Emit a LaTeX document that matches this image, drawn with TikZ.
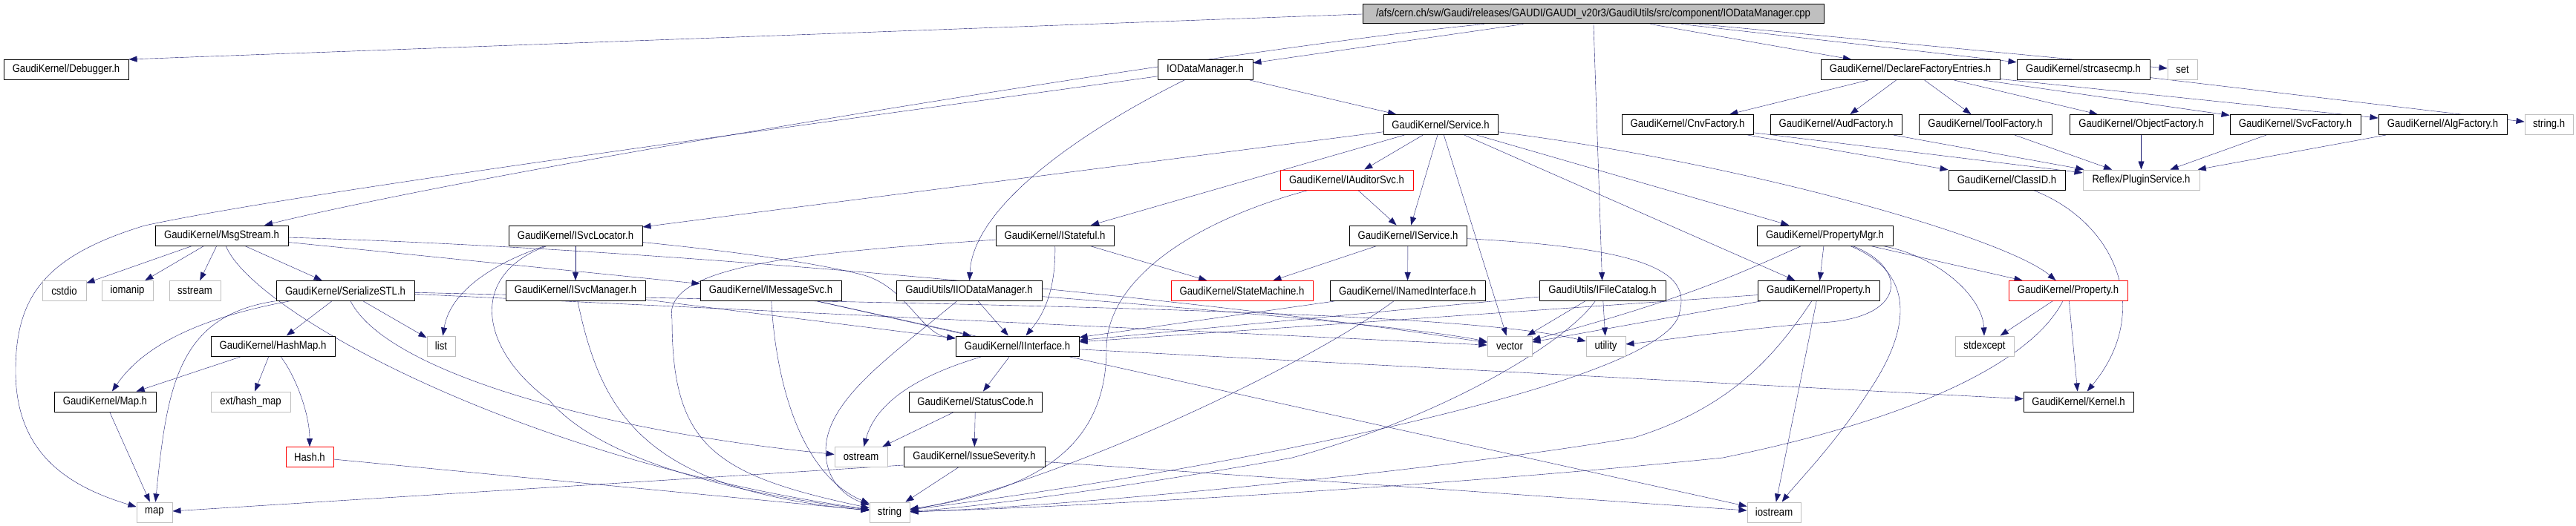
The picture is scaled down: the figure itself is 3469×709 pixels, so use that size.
\documentclass[tikz,border=0pt]{standalone}
\usepackage{fontspec}
\setmainfont{Liberation Sans}[FakeStretch=0.875]
\usetikzlibrary{arrows.meta}
\definecolor{edgeblue}{HTML}{191970}
\definecolor{sysgray}{HTML}{BFBFBF}
\pgfdeclarelayer{edges}
\pgfsetlayers{edges,main}

\begin{document}
\begin{tikzpicture}[x=1pt, y=-1pt, line width=1pt,
    font=\fontsize{15}{17}\selectfont,
    hdr/.style={draw, fill=white, inner xsep=1pt, inner ysep=0pt,
      minimum height=27pt, minimum width=#1},
    sys/.style={hdr=#1, draw=sysgray},
    trunc/.style={hdr=#1, draw=red},
    incl/.style={draw=edgeblue, -{Triangle[length=11pt,width=8pt]}}]
  \useasboundingbox (0,0) rectangle (3469,709);

  % the source file
  \node[hdr=621pt, fill=sysgray, minimum height=26pt] (root) at (2145.5,19)
    {/afs/cern.ch/sw/Gaudi/releases/GAUDI/GAUDI\_v20r3/GaudiUtils/src/component/IODataManager.cpp};

  % rank 1
  \node[hdr=168pt] (debugger) at (89,94) {GaudiKernel/Debugger.h};
  \node[hdr=128pt] (iodm) at (1623,94) {IODataManager.h};
  \node[hdr=241pt] (dfe) at (2572.5,94) {GaudiKernel/DeclareFactoryEntries.h};
  \node[hdr=179pt] (strcasecmp) at (2805.5,94) {GaudiKernel/strcasecmp.h};
  \node[sys=40pt] (set) at (2939,94) {set};

  % rank 2
  \node[hdr=154pt] (service) at (1940,168) {GaudiKernel/Service.h};
  \node[hdr=177pt] (cnvfactory) at (2272.5,168) {GaudiKernel/CnvFactory.h};
  \node[hdr=177pt] (audfactory) at (2472.5,168) {GaudiKernel/AudFactory.h};
  \node[hdr=179pt] (toolfactory) at (2673.5,168) {GaudiKernel/ToolFactory.h};
  \node[hdr=193pt] (objectfactory) at (2883.5,168) {GaudiKernel/ObjectFactory.h};
  \node[hdr=176pt] (svcfactory) at (3091,168) {GaudiKernel/SvcFactory.h};
  \node[hdr=173pt] (algfactory) at (3289.5,168) {GaudiKernel/AlgFactory.h};
  \node[sys=65pt] (stringh) at (3432.5,168) {string.h};

  % rank 3
  \node[trunc=179pt] (iauditorsvc) at (1813.5,242.5) {GaudiKernel/IAuditorSvc.h};
  \node[hdr=157pt] (classid) at (2702.5,242.5) {GaudiKernel/ClassID.h};
  \node[sys=157pt] (pluginsvc) at (2883.5,242.5) {Reflex/PluginService.h};

  % rank 4
  \node[hdr=179pt] (msgstream) at (298.5,317.5) {GaudiKernel/MsgStream.h};
  \node[hdr=180pt] (isvclocator) at (775,317.5) {GaudiKernel/ISvcLocator.h};
  \node[hdr=159pt] (istateful) at (1420.5,317.5) {GaudiKernel/IStateful.h};
  \node[hdr=158pt] (iservice) at (1896,317.5) {GaudiKernel/IService.h};
  \node[hdr=183pt] (propertymgr) at (2457.5,317.5) {GaudiKernel/PropertyMgr.h};

  % rank 5
  \node[sys=59pt] (cstdio) at (86.5,392) {cstdio};
  \node[sys=69pt] (iomanip) at (171.5,392) {iomanip};
  \node[sys=69pt] (sstream) at (262.5,392) {sstream};
  \node[hdr=186pt] (serializestl) at (465,392) {GaudiKernel/SerializeSTL.h};
  \node[hdr=188pt] (isvcmanager) at (775,392) {GaudiKernel/ISvcManager.h};
  \node[hdr=190pt] (imessagesvc) at (1038,392) {GaudiKernel/IMessageSvc.h};
  \node[hdr=196pt] (iiodm) at (1305,392) {GaudiUtils/IIODataManager.h};
  \node[trunc=191pt] (statemachine) at (1672.5,392) {GaudiKernel/StateMachine.h};
  \node[hdr=209pt] (inamed) at (1895.5,392) {GaudiKernel/INamedInterface.h};
  \node[hdr=170pt] (ifilecatalog) at (2158,392) {GaudiUtils/IFileCatalog.h};
  \node[hdr=164pt] (iproperty) at (2449,392) {GaudiKernel/IProperty.h};
  \node[trunc=160pt] (property) at (2785,392) {GaudiKernel/Property.h};

  % rank 6
  \node[hdr=167pt] (hashmap) at (367.5,466.5) {GaudiKernel/HashMap.h};
  \node[sys=38pt] (list) at (594,466.5) {list};
  \node[hdr=166pt] (iinterface) at (1370,466.5) {GaudiKernel/IInterface.h};
  \node[sys=60pt] (vector) at (2033,466.5) {vector};
  \node[sys=53pt] (utility) at (2162.5,466.5) {utility};
  \node[sys=79pt] (stdexcept) at (2672.5,466.5) {stdexcept};

  % rank 7
  \node[hdr=137pt] (maph) at (141.5,541.5) {GaudiKernel/Map.h};
  \node[sys=107pt] (hashmapext) at (337.5,541.5) {ext/hash\_map};
  \node[hdr=179pt] (statuscode) at (1313.5,541.5) {GaudiKernel/StatusCode.h};
  \node[hdr=148pt] (kernel) at (2799,541.5) {GaudiKernel/Kernel.h};

  % rank 8
  \node[trunc=64pt] (hash) at (417,616) {Hash.h};
  \node[sys=71pt] (ostream) at (1159.5,616) {ostream};
  \node[hdr=190pt] (issueseverity) at (1312,616) {GaudiKernel/IssueSeverity.h};

  % rank 9
  \node[sys=48pt] (map) at (208,690.5) {map};
  \node[sys=54pt] (string) at (1198,690.5) {string};
  \node[sys=72pt] (iostream) at (2389,690.5) {iostream};

  \begin{pgfonlayer}{edges}
  % includes of the source file
  \draw[incl] (root.west) -- (debugger.north east);
  \draw[incl] (root) -- (iodm);
  \draw[incl] (root) .. controls (1700,60) and (700,220) .. (msgstream);
  \draw[incl] (root) -- (dfe);
  \draw[incl] (root) -- (strcasecmp);
  \draw[incl] (root) -- (set);
  \draw[incl] (root) -- (ifilecatalog);

  % IODataManager.h
  \draw[incl] (iodm) -- (service);
  \draw[incl] (iodm) .. controls (1450,180) and (1310,280) .. (iiodm);
  \draw[incl] (iodm) .. controls (1000,180) and (400,260) .. (195,304)
    .. controls (60,345) and (21,400) .. (21,500)
    .. controls (21,610) and (90,655) .. (map);

  % Service.h
  \draw[incl] (service) -- (isvclocator);
  \draw[incl] (service) -- (istateful);
  \draw[incl] (service) -- (iauditorsvc);
  \draw[incl] (service) -- (iservice);
  \draw[incl] (service) -- (vector);
  \draw[incl] (service) -- (propertymgr);
  \draw[incl] (service) -- (iproperty);
  \draw[incl] (service) .. controls (2350,220) and (2700,320) .. (property);

  % factories
  \draw[incl] (dfe) -- (cnvfactory);
  \draw[incl] (dfe) -- (audfactory);
  \draw[incl] (dfe) -- (toolfactory);
  \draw[incl] (dfe) -- (objectfactory);
  \draw[incl] (dfe) -- (svcfactory);
  \draw[incl] (dfe) -- (algfactory);
  \draw[incl] (strcasecmp) -- (stringh);
  \draw[incl] (cnvfactory) -- (classid);
  \draw[incl] (cnvfactory) -- (pluginsvc);
  \draw[incl] (audfactory) -- (pluginsvc);
  \draw[incl] (toolfactory) -- (pluginsvc);
  \draw[incl] (objectfactory) -- (pluginsvc);
  \draw[incl] (svcfactory) -- (pluginsvc);
  \draw[incl] (algfactory) -- (pluginsvc);
  \draw[incl] (classid) .. controls (2850,300) and (2900,420) .. (kernel);

  % MsgStream.h
  \draw[incl] (msgstream) -- (cstdio);
  \draw[incl] (msgstream) -- (iomanip);
  \draw[incl] (msgstream) -- (sstream);
  \draw[incl] (msgstream) -- (serializestl);
  \draw[incl] (msgstream) -- (imessagesvc);
  \draw[incl] (msgstream) .. controls (900,335) and (1600,400) .. (vector);
  \draw[incl] (msgstream) .. controls (340,420) and (700,620) .. (string);

  % SerializeSTL.h
  \draw[incl] (serializestl) .. controls (260,430) and (190,470) .. (maph);
  \draw[incl] (serializestl) .. controls (240,425) and (225,520) .. (map);
  \draw[incl] (serializestl) -- (hashmap);
  \draw[incl] (serializestl) .. controls (520,500) and (800,580) .. (ostream);
  \draw[incl] (serializestl) -- (list);
  \draw[incl] (serializestl) -- (vector);
  \draw[incl] (serializestl) .. controls (1200,410) and (1950,415) .. (utility);

  % HashMap.h, Map.h, Hash.h
  \draw[incl] (hashmap) -- (maph);
  \draw[incl] (hashmap) -- (hashmapext);
  \draw[incl] (hashmap) .. controls (400,510) and (417,560) .. (hash);
  \draw[incl] (maph) -- (map);
  \draw[incl] (hash) -- (string);

  % ISvcLocator.h, ISvcManager.h
  \draw[incl] (isvclocator) -- (isvcmanager);
  \draw[incl] (isvclocator) .. controls (650,360) and (605,400) .. (list);
  \draw[incl] (isvclocator) .. controls (630,370) and (645,470) .. (740,540)
    .. controls (800,610) and (950,660) .. (string);
  \draw[incl] (isvclocator) .. controls (1000,340) and (1100,355) .. (1160,370)
    .. controls (1220,385) and (1240,450) .. (iinterface);
  \draw[incl] (isvcmanager) -- (iinterface);
  \draw[incl] (isvcmanager) .. controls (810,560) and (870,660) .. (string);

  % IMessageSvc.h
  \draw[incl] (imessagesvc) -- (iinterface);
  \draw[incl] (imessagesvc) .. controls (1045,520) and (1080,640) .. (string);
  \draw[incl] (imessagesvc) -- (iostream);

  % IIODataManager.h
  \draw[incl] (iiodm) -- (iinterface);
  \draw[incl] (iiodm) .. controls (1200,480) and (1110,540) .. (1112,610)
    .. controls (1113,650) and (1140,670) .. (string);
  \draw[incl] (iiodm) .. controls (1600,415) and (1900,440) .. (vector);

  % IStateful.h
  \draw[incl] (istateful) .. controls (1422,400) and (1400,430) .. (iinterface);
  \draw[incl] (istateful) -- (statemachine);
  \draw[incl] (istateful) .. controls (1100,340) and (890,355) .. (905,430)
    .. controls (905,600) and (960,640) .. (string);

  % IAuditorSvc.h
  \draw[incl] (iauditorsvc) -- (iservice);
  \draw[incl] (iauditorsvc) .. controls (1600,300) and (1490,380) .. (1490,470)
    .. controls (1490,600) and (1400,660) .. (string);

  % IService.h
  \draw[incl] (iservice) -- (statemachine);
  \draw[incl] (iservice) -- (inamed);
  \draw[incl] (iservice) .. controls (2230,335) and (2275,370) .. (2262,420)
    .. controls (2250,520) and (1600,640) .. (string);

  % INamedInterface.h
  \draw[incl] (inamed) -- (iinterface);
  \draw[incl] (inamed) .. controls (1750,500) and (1400,660) .. (string);

  % IFileCatalog.h
  \draw[incl] (ifilecatalog) -- (iinterface);
  \draw[incl] (ifilecatalog) -- (vector);
  \draw[incl] (ifilecatalog) -- (utility);
  \draw[incl] (ifilecatalog) .. controls (2110,460) and (1950,560) .. (1740,617)
    .. controls (1500,660) and (1300,685) .. (string);

  % PropertyMgr.h
  \draw[incl] (propertymgr) -- (iproperty);
  \draw[incl] (propertymgr) -- (property);
  \draw[incl] (propertymgr) .. controls (2610,345) and (2670,400) .. (stdexcept);
  \draw[incl] (propertymgr) .. controls (2350,365) and (2280,400) .. (vector);
  \draw[incl] (propertymgr) .. controls (2570,360) and (2570,430) .. (2450,435)
    .. controls (2330,445) and (2230,460) .. (utility);
  \draw[incl] (propertymgr) .. controls (2585,370) and (2570,450) .. (2515,530)
    .. controls (2470,600) and (2420,650) .. (iostream);

  % IProperty.h
  \draw[incl] (iproperty) -- (iinterface);
  \draw[incl] (iproperty) -- (vector);
  \draw[incl] (iproperty) .. controls (2390,480) and (2330,550) .. (2200,590)
    .. controls (1900,640) and (1400,685) .. (string);
  \draw[incl] (iproperty) -- (iostream);

  % Property.h
  \draw[incl] (property) -- (stdexcept);
  \draw[incl] (property) -- (kernel);
  \draw[incl] (property) .. controls (2740,480) and (2600,560) .. (2320,617)
    .. controls (1900,660) and (1400,685) .. (string);

  % IInterface.h, StatusCode.h, IssueSeverity.h
  \draw[incl] (iinterface) .. controls (1240,505) and (1180,540) .. (ostream);
  \draw[incl] (iinterface) -- (statuscode);
  \draw[incl] (iinterface) -- (kernel);
  \draw[incl] (statuscode) -- (ostream);
  \draw[incl] (statuscode) -- (issueseverity);
  \draw[incl] (issueseverity) -- (string);
  \draw[incl] ([yshift=-11pt]issueseverity.west) -- (map);
  \draw[incl] (issueseverity) -- (iostream);
  \end{pgfonlayer}
\end{tikzpicture}
\end{document}
